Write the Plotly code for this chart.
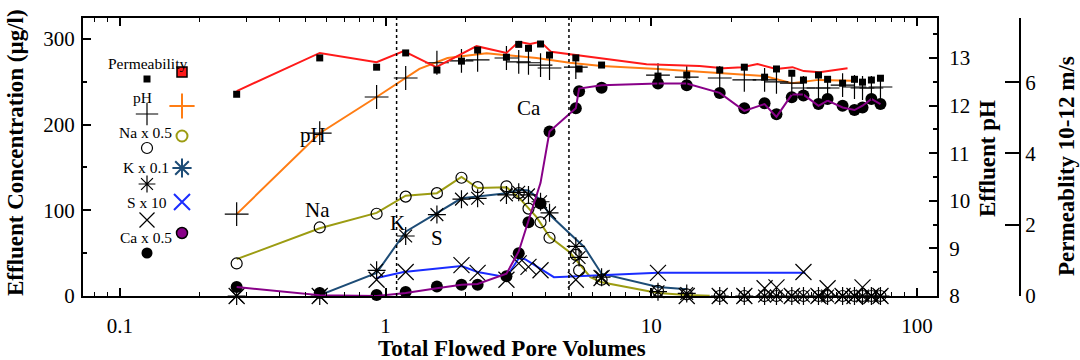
import math
import plotly.graph_objects as go

W, H = 1080, 360

# ---- sampled effluent fractions (black symbols) ----
pore_volumes = [0.275, 0.565, 0.925, 1.19, 1.56, 1.93, 2.22, 2.85, 3.17, 3.45, 3.83, 4.14, 5.2, 5.35, 6.5,
                10.6, 13.6, 18.1, 22.4, 26.7, 29.6, 33.8, 37.4, 42.6, 46.1, 52.5, 58.2, 62.4, 67.4, 72.9]
permeability = [5.66, 6.68, 6.42, 6.82, 6.34, 6.59, 6.90, 6.70, 7.06, 6.95, 7.07, 6.76, 6.68, 6.37, 6.48,
                6.17, 6.20, 6.34, 6.42, 6.14, 6.37, 6.25, 6.06, 6.20, 6.08, 5.97, 6.08, 6.00, 6.06, 6.11]
ph = [9.72, 11.42, 12.18, 12.58, 12.90, 12.94, 12.96, 13.00, 12.92, 12.90, 12.85, 12.79, 12.81, None, None,
      12.64, 12.60, 12.58, 12.54, 12.54, 12.50, 12.47, 12.37, 12.37, 12.37, 12.43, 12.39, 12.37, 12.37, 12.39]
na_half = [38, 80, 96, 116, 120, 138, 127, 128, 120, 102, 86, 68, 48, 30, 19,
           6, 2, 0, 0, 0, 0, 0, 0, 0, 0, 0, 0, 0, 0, 0]
k_tenth = [0, 0, 30, 70, 95, 113, 114, 118, 121, 118, 110, 97, 58, 45, 22,
           5, 3, 0, 0, 0, 0, 0, 0, 0, 0, 0, 0, 0, 0, 0]
s_tenfold = [0, 0, 19, 28, None, 36, 27, 19, 38, 34, 30, None, 19, None, 21,
             27, 0, 0, 0, 9, 10, 0, 28, 0, 9, 0, 0, 10, 0, 0]
ca_half = [10.5, 3.5, 1.2, 4.7, 11, 13, 13, 23, 50, 86, 108, 192, 219, 239, 243,
           248, 246, 237, 219, 225, 212, 232, 234, 224, 230, 222, 217, 220, 230, 224]

# ---- second run (coloured curves) ----
perm_run_pv = [0.275, 0.565, 0.925, 1.17, 1.55, 2.2, 2.85, 3.17, 3.5, 3.83, 4.2, 5.2,
               9.6, 15.2, 18.7, 22.0, 25.1, 29.5, 34.0, 37.5, 43.0, 54.8]
perm_run = [5.75, 6.82, 6.56, 6.87, 6.42, 7.01, 6.82, 7.13, 7.07, 7.13, 6.85, 6.76,
            6.50, 6.45, 6.39, 6.42, 6.51, 6.37, 6.42, 6.31, 6.28, 6.39]
ph_run_pv = [0.275, 0.565, 0.925, 1.34, 1.71, 2.4, 2.85, 3.7, 4.93, 6.5, 10.6, 18.1, 26.7, 33.8, 42.6, 57.0]
ph_run = [9.72, 11.42, 12.18, 12.77, 13.0, 13.1, 13.06, 13.0, 12.9, 12.83, 12.77, 12.68, 12.62, 12.47, 12.54, 12.52]
na_run_pv = [0.275, 0.565, 0.925, 1.19, 1.56, 1.93, 2.22, 2.85, 3.17, 3.7, 4.14, 4.93, 5.9, 6.5, 10.6, 13.6, 16.6]
na_run = [43, 79, 97, 117, 120, 139, 126, 127, 115, 92, 69, 51, 22, 16, 3.5, 1.2, 0.3]
k_run_pv = [0.565, 0.925, 1.19, 1.56, 1.93, 2.22, 2.85, 3.17, 3.45, 3.83, 4.14, 4.93, 5.6, 6.5, 10.6, 13.6]
k_run = [1, 27, 75, 97, 114, 116, 120, 124, 123, 112, 95, 73, 57, 26, 10.5, 8]
s_run_pv = [0.925, 1.17, 1.93, 2.22, 2.85, 3.17, 3.35, 4.3, 10.6, 38.0]
s_run = [21, 28, 35, 28, 22, 44, 43, 22, 27, 27]
ca_run_pv = pore_volumes
ca_run = [10.5, 1, 0, 3.5, 9, 13, 14, 26, 52, 88, 132, 192, 219, 242, 246,
          248, 248, 237, 216, 224, 209, 235, 235, 222, 228, 220, 217, 222, 230, 224]

# flow-regime boundaries
boundary_pv = [1.1, 4.9]

x_ticks = [0.1, 1, 10, 100]
x_tick_text = ["0.1", "1", "10", "100"]
conc_ticks = [0, 100, 200, 300]
ph_ticks = [8, 9, 10, 11, 12, 13]
perm_ticks = [0, 2, 4, 6]

series_labels = ["Permeability", "pH", "Na x 0.5", "K x 0.1", "S x 10", "Ca x 0.5"]

RED, ORANGE, OLIVE, NAVY, BLUE, PURPLE = "#ff1a1a", "#ff7d14", "#9c9c12", "#1d4c76", "#1a2cff", "#880088"
SERIF = "Liberation Serif"

# plot frame in pixels
PL, PR, PT, PB = 83, 937, 18, 296
X_DOM = [PL / W, PR / W]
Y_DOM = [1 - PB / H, 1 - PT / H]

fig = go.Figure()

def line(x, y, color, axis):
    fig.add_trace(go.Scatter(x=x, y=y, mode="lines", yaxis=axis,
                             line=dict(color=color, width=2), hoverinfo="skip"))

def pts(x, y, symbol, size, axis, filled=False, lw=1.2):
    fig.add_trace(go.Scatter(x=x, y=y, mode="markers", yaxis=axis, cliponaxis=False,
                             marker=dict(symbol=symbol, size=size, color="black",
                                         line=dict(color="black", width=0 if filled else lw))))

line(perm_run_pv, perm_run, RED, "y3")
line(ph_run_pv, ph_run, ORANGE, "y2")
line(na_run_pv, na_run, OLIVE, "y")
line(k_run_pv, k_run, NAVY, "y")
line(s_run_pv, s_run, BLUE, "y")

pts(pore_volumes, permeability, "square", 7, "y3", filled=True)
pts(pore_volumes, ph, "cross-thin-open", 17, "y2")
pts(pore_volumes, na_half, "circle-open", 11, "y")
pts(pore_volumes, k_tenth, "asterisk-open", 15, "y")
pts(pore_volumes, s_tenfold, "x-thin-open", 16, "y")
pts(pore_volumes, ca_half, "circle", 12, "y", filled=True)
line(ca_run_pv, ca_run, PURPLE, "y")

# ---- key in the upper-left corner ----
def frac(px, py):
    return (px - PL) / (PR - PL), (PB - py) / (PB - PT)

key_label_px = [(147, 63), (142, 98), (145, 132), (146, 167), (147, 202), (146, 237)]
key_black_px = [(147, 79), (147, 114), (147, 148), (147, 184), (147, 220), (147, 253)]
key_color_px = [(182, 72), (182, 106), (182, 136), (182, 168), (182, 202), (182, 233)]

def key_style(symbol, size, color, edge=None, lw=1.2):
    return dict(symbol=symbol, size=size, color=color,
                line=dict(color=edge or color, width=lw))

black_styles = [key_style("square", 7, "black", lw=0),
                key_style("cross-thin-open", 16, "black"),
                key_style("circle-open", 11, "black"),
                key_style("asterisk-open", 14, "black"),
                key_style("x-thin-open", 15, "black"),
                key_style("circle", 11, "black", lw=0)]
color_styles = [key_style("square", 10, RED, edge="black", lw=1.5),
                key_style("cross-thin-open", 18, ORANGE, lw=2),
                key_style("circle-open", 11, OLIVE, lw=2),
                key_style("asterisk-open", 16, NAVY, lw=2),
                key_style("x-thin-open", 16, BLUE, lw=2),
                key_style("circle", 11, PURPLE, edge="black", lw=1.5)]
for (bx, by), (cx, cy), bs, cs in zip(key_black_px, key_color_px, black_styles, color_styles):
    for (px, py), st in (((bx, by), bs), ((cx, cy), cs)):
        fx, fy = frac(px, py)
        fig.add_trace(go.Scatter(x=[fx], y=[fy], mode="markers", xaxis="x2", yaxis="y4",
                                 marker=st, hoverinfo="skip"))

def paper_text(text, px, py, size, angle=0):
    return dict(text=text, x=px / W, y=1 - py / H, xref="paper", yref="paper",
                xanchor="center", yanchor="middle", textangle=angle, showarrow=False,
                font=dict(family=SERIF, size=size, color="black"))

annotations = [paper_text(t, px, py, 15.5) for t, (px, py) in zip(series_labels, key_label_px)]

# curve labels (data coordinates; log axis positions are given as log10)
curve_labels = [("pH", 0.531, 188), ("Na", 0.555, 100), ("K", 1.11, 85), ("S", 1.56, 68), ("Ca", 3.48, 219)]
for text, xv, yv in curve_labels:
    annotations.append(dict(text=text, x=math.log10(xv), y=yv, xref="x", yref="y", showarrow=False,
                            xanchor="center", yanchor="middle",
                            font=dict(family=SERIF, size=21, color="black")))

# axis titles
annotations += [
    paper_text("<b>Total Flowed Pore Volumes</b>", 512, 348, 23),
    paper_text("<b>Effluent Concentration (µg/l)</b>", 15, 153, 23, -90),
    paper_text("<b>Effluent pH</b>", 987, 159, 23, -90),
    paper_text("<b>Permeablity 10-12 m/s</b>", 1066, 166, 23, -90),
]

shapes = [dict(type="line", xref="x", yref="y domain", x0=v, x1=v, y0=0, y1=1,
               line=dict(color="black", width=1.5, dash="dot")) for v in boundary_pv]

x_minor = [m * 10 ** e for e in (-2, -1, 0, 1, 2) for m in range(2, 10) if 0.0726 < m * 10 ** e < 119]

axis_common = dict(showgrid=False, zeroline=False, showline=True, linecolor="black", linewidth=2,
                   tickcolor="black", tickwidth=1.5, automargin=False,
                   tickfont=dict(family=SERIF, size=21, color="black"))

fig.update_layout(
    width=W, height=H, margin=dict(l=0, r=0, t=0, b=0),
    paper_bgcolor="white", plot_bgcolor="white", showlegend=False,
    font=dict(family=SERIF, size=21, color="black"),
    xaxis=dict(type="log", domain=X_DOM, range=[math.log10(0.0726), math.log10(119)],
               tickvals=x_ticks, ticktext=x_tick_text, ticks="inside", ticklen=8, mirror="ticks",
               ticklabelstandoff=10,
               minor=dict(tickvals=x_minor, ticks="inside", ticklen=4, tickcolor="black", tickwidth=1),
               **axis_common),
    yaxis=dict(domain=Y_DOM, range=[0, 324.4], tickvals=conc_ticks, ticks="inside", ticklen=8,
               minor=dict(tickvals=[50, 150, 250], ticks="inside", ticklen=4, tickcolor="black"),
               ticklabelstandoff=2, **axis_common),
    yaxis2=dict(overlaying="y", side="right", anchor="x", range=[8, 13.84], tickvals=ph_ticks,
                ticks="inside", ticklen=8, ticklabelstandoff=6,
                minor=dict(dtick=0.5, ticks="inside", ticklen=4, tickcolor="black"),
                **axis_common),
    yaxis3=dict(overlaying="y", side="right", anchor="free", position=1020 / W, range=[0, 7.8],
                tickvals=perm_ticks, ticks="inside", ticklen=14, **axis_common),
    xaxis2=dict(overlaying="x", range=[0, 1], visible=False),
    yaxis4=dict(overlaying="y", range=[0, 1], visible=False),
    annotations=annotations,
    shapes=shapes,
)

fig.write_html("out.html")
